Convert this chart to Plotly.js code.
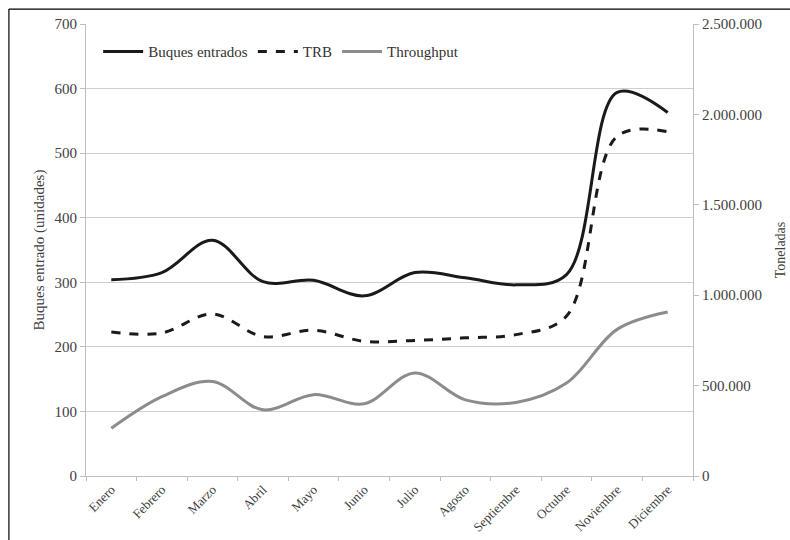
<!DOCTYPE html>
<html>
<head>
<meta charset="utf-8">
<script src="https://cdn.plot.ly/plotly-3.0.1.min.js"></script>
<style>html,body{margin:0;padding:0;background:#fff;}#chart{width:790px;height:540px;}</style>
</head>
<body>
<div id="chart"></div>
<script>
const meses = ["Enero","Febrero","Marzo","Abril","Mayo","Junio","Julio","Agosto","Septiembre","Octubre","Noviembre","Diciembre"];
const buquesEntrados = [304, 315, 365, 301, 303, 279, 315, 307, 296, 312, 594, 563];
const trb = [796000, 791000, 896000, 771000, 806000, 745000, 750000, 764000, 782000, 885000, 1879000, 1904000];
const throughput = [264000, 439000, 523000, 366000, 450000, 400000, 570000, 421000, 407000, 514000, 811000, 907000];

const fontFam = '"Liberation Serif", "Times New Roman", serif';
const txt = "#404040";

const traces = [
  {x: meses, y: buquesEntrados, name: "Buques entrados", type: "scatter", mode: "lines",
   line: {color: "#1a1a1a", width: 3, shape: "spline", smoothing: 1}, yaxis: "y"},
  {x: meses, y: trb, name: "TRB", type: "scatter", mode: "lines",
   line: {color: "#1a1a1a", width: 3, dash: "dash", shape: "spline", smoothing: 1}, yaxis: "y2"},
  {x: meses, y: throughput, name: "Throughput", type: "scatter", mode: "lines",
   line: {color: "#8c8c8c", width: 3, shape: "spline", smoothing: 1}, yaxis: "y2"}
];

const layout = {
  width: 790, height: 540,
  margin: {l: 86, r: 97, t: 24, b: 64},
  paper_bgcolor: "#fff", plot_bgcolor: "#fff",
  separators: ",.",
  font: {family: fontFam, size: 15, color: txt},
  showlegend: true,
  legend: {orientation: "h", x: 0.02, y: 0.975, xanchor: "left", yanchor: "top", itemwidth: 40,
           font: {family: fontFam, size: 15, color: "#333"}, bgcolor: "rgba(0,0,0,0)"},
  xaxis: {type: "category", tickangle: -45, showgrid: false, showline: true, linecolor: "#bdbdbd", linewidth: 1,
          ticks: "outside", ticklen: 4, tickcolor: "#bdbdbd", tickson: "boundaries",
          tickfont: {family: fontFam, size: 13, color: txt}, zeroline: false, range: [-0.5, 11.5]},
  yaxis: {range: [0, 700], dtick: 100, showgrid: true, gridcolor: "#cfcfcf", gridwidth: 1,
          showline: true, linecolor: "#bdbdbd", ticks: "outside", ticklen: 5, tickcolor: "#bdbdbd",
          zeroline: false, tickfont: {family: fontFam, size: 15, color: txt},
          title: {text: "Buques entrado (unidades)", font: {family: fontFam, size: 15, color: txt}, standoff: 6}},
  yaxis2: {range: [0, 2500000], dtick: 500000, overlaying: "y", side: "right", showgrid: false,
           showline: true, linecolor: "#bdbdbd", ticks: "outside", ticklen: 5, tickcolor: "#bdbdbd",
           zeroline: false, tickformat: ",d", tickfont: {family: fontFam, size: 15, color: txt},
           title: {text: "Toneladas", font: {family: fontFam, size: 14, color: txt}, standoff: 14}},
  shapes: [
    {type: "line", xref: "paper", yref: "paper", x0: -0.127, x1: 1.2, y0: 1.033, y1: 1.033, line: {color: "#000", width: 1.2}},
    {type: "line", xref: "paper", yref: "paper", x0: -0.127, x1: -0.127, y0: 1.033, y1: -0.2, line: {color: "#000", width: 1.2}}
  ]
};

Plotly.newPlot("chart", traces, layout, {displayModeBar: false, staticPlot: true});
</script>
</body>
</html>
